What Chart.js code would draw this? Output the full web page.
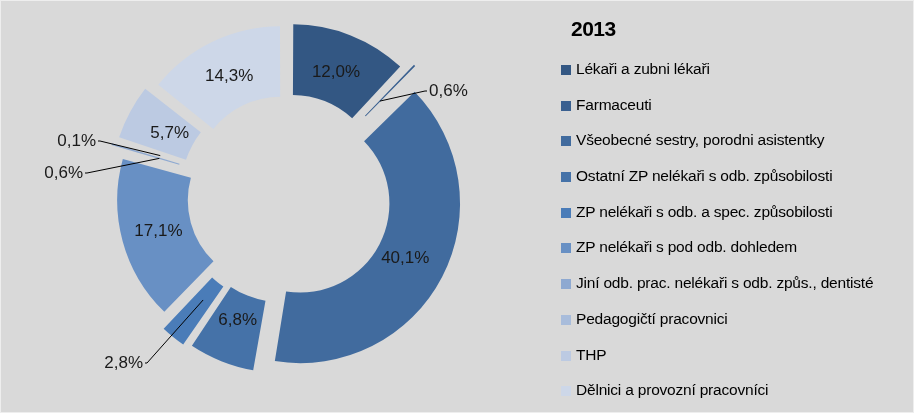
<!DOCTYPE html>
<html><head><meta charset="utf-8">
<script src="https://cdn.jsdelivr.net/npm/chart.js@4/dist/chart.umd.min.js"></script>
<style>
body{margin:0;background:#fff}
#wrap{position:relative;width:912px;height:411px;background:#d9d9d9;border:1px solid #eeeeee;font-family:"Liberation Sans",Arial,sans-serif}
#cv{position:absolute;left:0;top:0}
#leg{position:absolute;left:560px;top:16px;color:#000}
#leg h1{font:bold 21px "Liberation Sans",sans-serif;margin:0 0 19px 10px;letter-spacing:-0.5px}
.it{height:35.7px;font-size:15.5px;display:flex;align-items:flex-start;letter-spacing:-0.2px}
.sw{width:10px;height:10px;margin:5px 5px 0 0}
</style></head><body>
<div id="wrap"><canvas id="cv" width="572" height="411"></canvas><div id="leg"><h1 id="ttl"></h1></div></div>
<script>
const title = "2013";
const categories = ["Lékaři a zubni lékaři","Farmaceuti","Všeobecné sestry, porodni asistentky","Ostatní ZP nelékaři s odb. způsobilosti","ZP nelékaři s odb. a spec. způsobilosti","ZP nelékaři s pod odb. dohledem","Jiní odb. prac. nelékaři s odb. způs., dentisté","Pedagogičtí pracovnici","THP","Dělnici a provozní pracovníci"];
const values = [12.0,0.6,40.1,6.8,2.8,17.1,0.6,0.1,5.7,14.3];
const colors = ["#335783","#3a6090","#416b9e","#4572a8","#4a7cb8","#6890c4","#8ea9d1","#a8bcdb","#bccae2","#cdd7e8"];
// external label placements for small slices: [text x, text y, align, elbow x]
const ext = {1:[428,90,"left",424],4:[142,362,"right",146],6:[82,172,"right",86],7:[95,140,"right",99]};

document.getElementById('ttl').textContent = title;
const leg = document.getElementById('leg');
categories.forEach((c,i)=>{const d=document.createElement('div');d.className='it';
 d.innerHTML='<div class="sw" style="background:'+colors[i]+'"></div><span>'+c+'</span>';leg.appendChild(d);});

const fmt = v => v.toFixed(1).replace('.',',')+'%';
const labels = {id:'lbl',afterDatasetsDraw(ch){
 const ctx=ch.ctx; const arcs=ch.getDatasetMeta(0).data;
 ctx.save(); ctx.font='17px "Liberation Sans",sans-serif'; ctx.fillStyle='#1a1a1a'; ctx.textBaseline='middle';
 arcs.forEach((a,i)=>{
  const mid=(a.startAngle+a.endAngle)/2; const off=a.options.offset/4;
  const r=(a.innerRadius+a.outerRadius)/2+off;
  const px=a.x+Math.cos(mid)*r, py=a.y+Math.sin(mid)*r;
  if(ext[i]){const [tx,ty,al,ex]=ext[i];
   ctx.strokeStyle='#000';ctx.lineWidth=1;ctx.beginPath();ctx.moveTo(px,py);ctx.lineTo(ex,ty);ctx.lineTo(al==='left'?tx-2:tx+2,ty);ctx.stroke();
   ctx.textAlign=al;ctx.fillText(fmt(values[i]),tx,ty);
  } else {ctx.textAlign='center';ctx.fillText(fmt(values[i]),px,py);}
 }); ctx.restore();}};

new Chart(document.getElementById('cv'),{type:'doughnut',
 data:{labels:categories,datasets:[{data:values,backgroundColor:colors,borderWidth:0,offset:60,hoverOffset:0}]},
 options:{responsive:false,animation:false,cutout:'54%',rotation:0,
  layout:{padding:{top:12,bottom:32,left:0,right:0}},
  plugins:{legend:{display:false},tooltip:{enabled:false}}},
 plugins:[labels]});
</script></body></html>
